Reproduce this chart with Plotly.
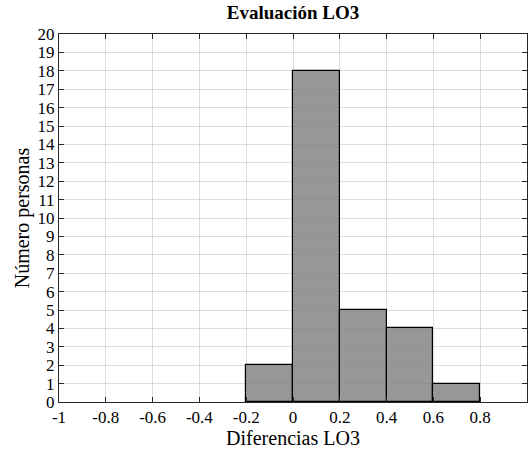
import plotly.graph_objects as go

bin_edges = [-0.2, 0.0, 0.2, 0.4, 0.6, 0.8]
counts = [2, 18, 5, 4, 1]
x_ticks = [-1, -0.8, -0.6, -0.4, -0.2, 0, 0.2, 0.4, 0.6, 0.8, 1]
x_tick_labels = ["-1", "-0.8", "-0.6", "-0.4", "-0.2", "0", "0.2", "0.4", "0.6", "0.8", "1"]
y_ticks = list(range(0, 21))

centers = [(a + b) / 2 for a, b in zip(bin_edges[:-1], bin_edges[1:])]
widths = [b - a for a, b in zip(bin_edges[:-1], bin_edges[1:])]

FONT = "Liberation Serif"

fig = go.Figure()
fig.add_trace(go.Bar(
    x=centers, y=counts, width=widths,
    marker=dict(color="rgba(128,128,128,0.82)", line=dict(color="black", width=1.2)),
    showlegend=False, hoverinfo="skip",
))

fig.update_layout(
    template="none",
    width=528, height=456,
    margin=dict(l=59, r=1, t=34, b=54, autoexpand=False),
    paper_bgcolor="white", plot_bgcolor="white",
    font=dict(family=FONT, size=17, color="black"),
    title=dict(text="<b>Evaluación LO3</b>", xref="paper", x=0.5, xanchor="center",
               yref="container", y=1 - 6 / 456, yanchor="top",
               font=dict(family=FONT, size=19, color="black")),
    bargap=0,
)
fig.update_xaxes(
    range=[-1, 1], tickvals=x_ticks, ticktext=x_tick_labels, automargin=False,
    showgrid=True, gridcolor="rgba(0,0,0,0.13)", gridwidth=1,
    showline=True, linecolor="#262626", linewidth=1, mirror="ticks",
    ticks="inside", ticklen=5, tickcolor="#262626",
    zeroline=False,
    title=dict(text="Diferencias LO3", standoff=2, font=dict(family=FONT, size=20)),
    tickfont=dict(family=FONT, size=17),
)
fig.update_yaxes(
    range=[0, 20], tickvals=y_ticks, automargin=False,
    showgrid=True, gridcolor="rgba(0,0,0,0.13)", gridwidth=1,
    showline=True, linecolor="#262626", linewidth=1, mirror="ticks",
    ticks="inside", ticklen=5, tickcolor="#262626",
    zeroline=False,
    title=dict(text="Número personas", standoff=2, font=dict(family=FONT, size=20)),
    tickfont=dict(family=FONT, size=17),
)

fig.write_html(
    "out.html",
    config={"displayModeBar": False},
    post_script="document.body.style.margin='0';document.body.style.overflow='hidden';",
)
